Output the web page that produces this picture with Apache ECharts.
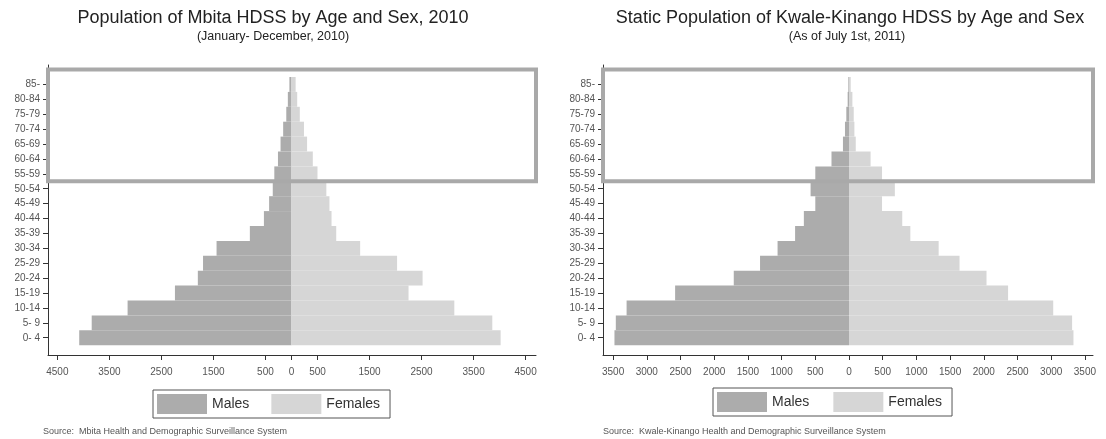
<!DOCTYPE html>
<html>
<head>
<meta charset="utf-8">
<script src="https://cdn.jsdelivr.net/npm/echarts@6/dist/echarts.min.js"></script>
<style>
html, body { margin: 0; padding: 0; background: #fff; }
#main { width: 1106px; height: 439px; }
</style>
</head>
<body>
<div id="main"></div>
<script>
// 年龄组（从下到上）
var ageGroups = ['0- 4', '5- 9', '10-14', '15-19', '20-24', '25-29', '30-34', '35-39', '40-44',
    '45-49', '50-54', '55-59', '60-64', '65-69', '70-74', '75-79', '80-84', '85-'];

// Mbita HDSS, 2010
var mbitaMales = [4080, 3840, 3150, 2240, 1800, 1700, 1440, 800, 530, 430, 360, 330, 260, 210, 160, 100, 70, 40];
var mbitaFemales = [4020, 3860, 3130, 2250, 2520, 2030, 1320, 860, 770, 730, 670, 500, 410, 300, 240, 160, 110, 80];

// Kwale-Kinango HDSS, 2011
var kwaleMales = [3480, 3460, 3300, 2580, 1710, 1320, 1060, 800, 670, 500, 570, 500, 260, 90, 60, 40, 20, 10];
var kwaleFemales = [3330, 3310, 3030, 2360, 2040, 1640, 1330, 910, 790, 490, 680, 490, 320, 100, 80, 70, 50, 25];

// 横轴刻度
var mbitaTicks = [-4500, -3500, -2500, -1500, -500, 0, 500, 1500, 2500, 3500, 4500];
var kwaleTicks = [-3500, -3000, -2500, -2000, -1500, -1000, -500, 0, 500, 1000, 1500, 2000, 2500, 3000, 3500];

var maleColor = '#acacac';
var femaleColor = '#d6d6d6';
var boxColor = '#a9a9a9';
var axisColor = '#333';
var labelFont = "'Liberation Sans', Arial, sans-serif";
var textFont = "'Liberation Sans', Arial, sans-serif";

// 纵轴刻度位置 = 年龄组序号
var ageTicks = ageGroups.map(function (g, i) { return i; });

var myChart = echarts.init(document.getElementById('main'));

var grid = [];
var xAxis = [];
var yAxis = [];
var series = [];

// 一个金字塔：内层网格画条形，外层网格画坐标轴和方框
function addPanel (left, right, xMin, xMax, ticks, males, females) {
    var inner = grid.length;
    var outer = inner + 1;
    grid.push({ left: left, right: right, top: 77, height: 268.2 });
    grid.push({ left: left, right: right, top: 65, height: 290 });

    xAxis.push({ gridIndex: inner, type: 'value', min: xMin, max: xMax, show: false });
    xAxis.push({
        gridIndex: outer, type: 'value', min: xMin, max: xMax,
        axisLine: { show: true, onZero: false, lineStyle: { color: axisColor } },
        axisTick: { show: true, length: 5, customValues: ticks, lineStyle: { color: axisColor } },
        axisLabel: {
            customValues: ticks, margin: 12, fontSize: 10, color: '#555', fontFamily: labelFont,
            formatter: function (v) { return String(Math.abs(v)); }
        },
        splitLine: { show: false }
    });

    yAxis.push({
        gridIndex: inner, type: 'category', data: ageGroups,
        axisLine: { show: false },
        axisTick: { show: false },
        axisLabel: { fontSize: 10, color: '#555', fontFamily: labelFont, margin: 8, interval: 0 }
    });
    // 外层纵轴：轴线和每个年龄组的刻度
    yAxis.push({
        gridIndex: outer, type: 'value', min: -1.158, max: 18.305,
        axisLine: { show: true, onZero: false, lineStyle: { color: axisColor } },
        axisTick: { show: true, length: 5, customValues: ageTicks, lineStyle: { color: axisColor } },
        axisLabel: { show: false }, splitLine: { show: false }
    });

    series.push({
        name: 'Males', type: 'bar', xAxisIndex: inner, yAxisIndex: inner,
        stack: 'p' + inner, barCategoryGap: 0,
        itemStyle: { color: maleColor },
        data: males.map(function (v) { return -v; })
    });
    series.push({
        name: 'Females', type: 'bar', xAxisIndex: inner, yAxisIndex: inner,
        stack: 'p' + inner, barCategoryGap: 0,
        itemStyle: { color: femaleColor },
        data: females
    });
    // 高龄组方框
    series.push({
        type: 'line', xAxisIndex: outer, yAxisIndex: outer, data: [], z: 10,
        markArea: {
            silent: true, z: 10,
            itemStyle: { color: 'rgba(0,0,0,0)', borderColor: boxColor, borderWidth: 4 },
            data: [[{ xAxis: xMin, yAxis: 10.5 }, { xAxis: xMax, yAxis: 18 }]]
        }
    });
}

addPanel(48, 1106 - 536, -4680, 4700, mbitaTicks, mbitaMales, mbitaFemales);
addPanel(603, 1106 - 1093, -3650, 3620, kwaleTicks, kwaleMales, kwaleFemales);

function legendAt (left, top, gap) {
    return {
        left: left, top: top, padding: [4, 10, 4, 4],
        itemWidth: 50, itemHeight: 20, itemGap: gap,
        borderColor: '#555', borderWidth: 1, icon: 'rect', selectedMode: false,
        textStyle: { fontSize: 14, color: '#333', fontFamily: textFont },
        data: ['Males', 'Females']
    };
}

function text (x, y, str, size, align) {
    return {
        type: 'text', x: x, y: y, silent: true,
        style: {
            text: str, fontSize: size, fontFamily: textFont, fill: '#222',
            align: align || 'center', verticalAlign: 'middle'
        }
    };
}

var option = {
    animation: false,
    grid: grid,
    xAxis: xAxis,
    yAxis: yAxis,
    series: series,
    legend: [legendAt(153, 390, 22), legendAt(713, 388, 24)],
    graphic: [
        text(273, 18, 'Population of Mbita HDSS by Age and Sex, 2010', 18),
        text(273, 37, '(January- December, 2010)', 12.5),
        text(850, 18, 'Static Population of Kwale-Kinango HDSS by Age and Sex', 18),
        text(847, 37, '(As of July 1st, 2011)', 12.5),
        {
            type: 'text', x: 43, y: 432, silent: true,
            style: { text: 'Source:  Mbita Health and Demographic Surveillance System', fontSize: 9, fontFamily: labelFont, fill: '#555', verticalAlign: 'middle' }
        },
        {
            type: 'text', x: 603, y: 432, silent: true,
            style: { text: 'Source:  Kwale-Kinango Health and Demographic Surveillance System', fontSize: 9, fontFamily: labelFont, fill: '#555', verticalAlign: 'middle' }
        }
    ]
};

myChart.setOption(option);
</script>
</body>
</html>
